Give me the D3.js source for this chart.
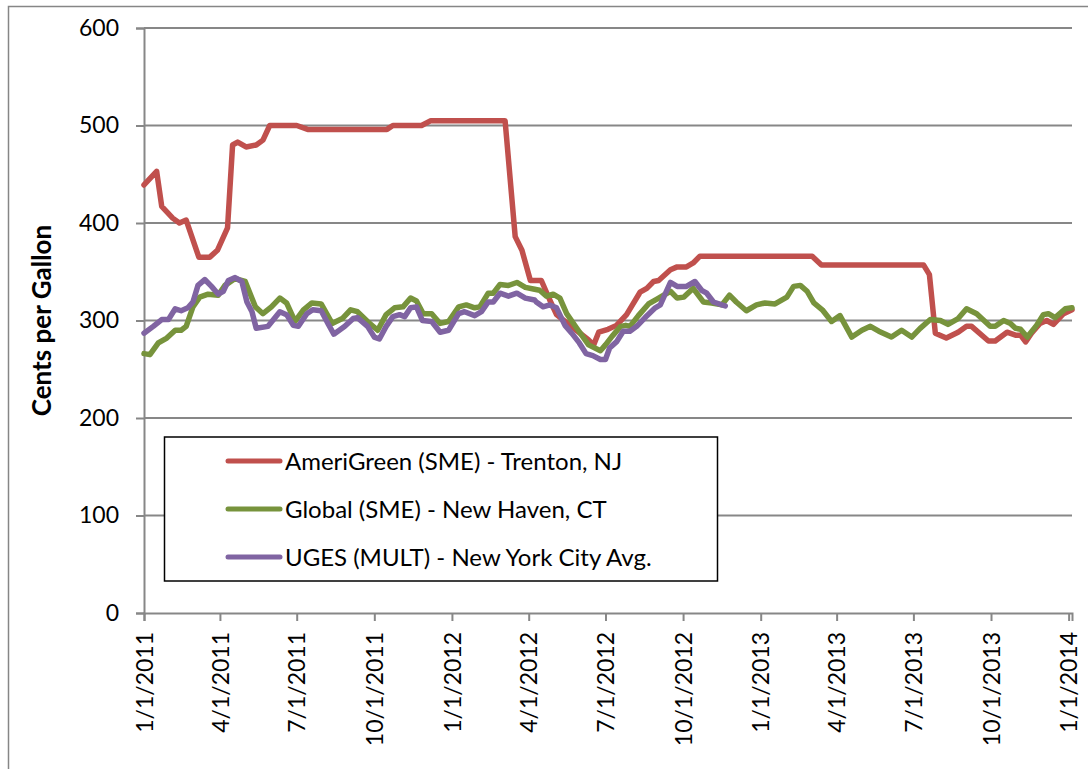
<!DOCTYPE html>
<html>
<head>
<meta charset="utf-8">
<script src="https://cdn.jsdelivr.net/npm/d3@7"></script>
<style>
  body { margin: 0; background: #fff; }
  svg text { font-family: Lato, "Open Sans", sans-serif; fill: #000; }
</style>
</head>
<body>
<div id="chart"></div>
<script>
// AmeriGreen (SME) - Trenton, NJ  [date, cents per gallon]
const amerigreen = [
  ["2011-01-01",439],["2011-01-16",453],["2011-01-22",417],["2011-02-04",405],["2011-02-12",400],
  ["2011-02-20",403],["2011-03-07",365],["2011-03-20",365],["2011-03-29",372],["2011-04-10",395],
  ["2011-04-16",480],["2011-04-22",483],["2011-05-02",478],["2011-05-14",480],["2011-05-22",485],
  ["2011-05-30",500],["2011-07-01",500],["2011-07-14",496],["2011-10-16",496],["2011-10-23",500],
  ["2011-11-26",500],["2011-12-07",505],["2012-03-04",505],["2012-03-16",386],["2012-03-24",372],
  ["2012-04-03",341],["2012-04-16",341],["2012-04-26",321],["2012-05-04",306],["2012-06-11",280],
  ["2012-06-17",275],["2012-06-23",288],["2012-07-04",291],["2012-07-14",295],["2012-07-26",306],
  ["2012-08-11",329],["2012-08-19",333],["2012-08-27",340],["2012-09-02",341],["2012-09-16",352],
  ["2012-09-24",355],["2012-10-05",355],["2012-10-13",359],["2012-10-21",366],["2013-03-03",366],
  ["2013-03-14",357],["2013-07-13",357],["2013-07-20",347],["2013-07-27",287],["2013-08-09",282],
  ["2013-08-23",288],["2013-09-02",294],["2013-09-08",294],["2013-09-28",279],["2013-10-06",279],
  ["2013-10-20",288],["2013-10-30",285],["2013-11-05",285],["2013-11-11",278],["2013-11-18",287],
  ["2013-11-28",297],["2013-12-06",300],["2013-12-14",296],["2013-12-26",307],["2014-01-05",311]
];

// Global (SME) - New Haven, CT
const global = [
  ["2011-01-01",266],["2011-01-08",265],["2011-01-18",277],["2011-01-28",282],["2011-02-07",290],
  ["2011-02-14",290],["2011-02-20",294],["2011-02-28",314],["2011-03-08",324],["2011-03-18",327],
  ["2011-03-30",326],["2011-04-07",336],["2011-04-19",343],["2011-05-01",340],["2011-05-13",314],
  ["2011-05-22",307],["2011-06-01",314],["2011-06-11",323],["2011-06-19",318],["2011-06-29",299],
  ["2011-07-09",311],["2011-07-19",318],["2011-07-30",317],["2011-08-12",297],["2011-08-24",302],
  ["2011-09-03",311],["2011-09-11",309],["2011-09-23",299],["2011-10-05",290],["2011-10-15",306],
  ["2011-10-25",313],["2011-11-04",314],["2011-11-13",323],["2011-11-20",320],["2011-11-28",307],
  ["2011-12-08",307],["2011-12-18",297],["2011-12-28",299],["2012-01-09",314],["2012-01-18",316],
  ["2012-01-28",313],["2012-02-03",314],["2012-02-13",328],["2012-02-19",328],["2012-02-27",337],
  ["2012-03-08",336],["2012-03-18",339],["2012-03-28",334],["2012-04-08",332],["2012-04-14",331],
  ["2012-04-22",325],["2012-04-30",327],["2012-05-08",323],["2012-05-16",307],["2012-05-28",292],
  ["2012-06-11",275],["2012-06-25",269],["2012-07-01",275],["2012-07-09",284],["2012-07-19",294],
  ["2012-07-25",295],["2012-07-30",294],["2012-08-09",305],["2012-08-21",317],["2012-08-31",322],
  ["2012-09-16",330],["2012-09-24",323],["2012-10-02",324],["2012-10-13",333],["2012-10-25",319],
  ["2012-11-04",318],["2012-11-16",316],["2012-11-25",326],["2012-12-03",319],["2012-12-15",310],
  ["2012-12-27",316],["2013-01-06",318],["2013-01-18",317],["2013-02-01",324],["2013-02-09",335],
  ["2013-02-17",336],["2013-02-25",330],["2013-03-05",318],["2013-03-15",311],["2013-03-26",299],
  ["2013-04-05",305],["2013-04-19",283],["2013-05-01",290],["2013-05-11",294],["2013-05-21",289],
  ["2013-06-05",283],["2013-06-17",290],["2013-06-29",283],["2013-07-09",292],["2013-07-21",301],
  ["2013-08-02",300],["2013-08-11",296],["2013-08-23",302],["2013-09-02",312],["2013-09-14",307],
  ["2013-09-30",294],["2013-10-06",294],["2013-10-16",300],["2013-10-24",297],["2013-10-30",292],
  ["2013-11-05",291],["2013-11-13",283],["2013-11-24",295],["2013-12-02",306],["2013-12-08",307],
  ["2013-12-16",303],["2013-12-28",312],["2014-01-05",313]
];

// UGES (MULT) - New York City Avg.
const uges = [
  ["2011-01-01",287],["2011-01-12",294],["2011-01-22",301],["2011-01-30",301],["2011-02-07",312],
  ["2011-02-14",310],["2011-02-22",313],["2011-02-28",319],["2011-03-06",336],["2011-03-14",342],
  ["2011-03-22",335],["2011-03-30",327],["2011-04-05",330],["2011-04-11",341],["2011-04-19",344],
  ["2011-04-27",340],["2011-05-03",319],["2011-05-09",309],["2011-05-14",292],["2011-05-28",294],
  ["2011-06-11",309],["2011-06-19",306],["2011-06-27",295],["2011-07-03",294],["2011-07-13",307],
  ["2011-07-20",311],["2011-07-30",310],["2011-08-07",297],["2011-08-14",286],["2011-08-27",294],
  ["2011-09-06",302],["2011-09-11",303],["2011-09-23",294],["2011-10-01",283],["2011-10-07",281],
  ["2011-10-15",294],["2011-10-23",304],["2011-10-31",306],["2011-11-06",304],["2011-11-13",313],
  ["2011-11-20",314],["2011-11-27",300],["2011-12-08",299],["2011-12-18",288],["2011-12-28",290],
  ["2012-01-09",307],["2012-01-16",309],["2012-01-28",305],["2012-02-05",309],["2012-02-13",319],
  ["2012-02-19",319],["2012-02-27",328],["2012-03-08",325],["2012-03-18",328],["2012-03-28",323],
  ["2012-04-08",321],["2012-04-10",319],["2012-04-18",314],["2012-04-26",316],["2012-05-04",313],
  ["2012-05-14",295],["2012-05-22",287],["2012-05-31",277],["2012-06-08",266],["2012-06-16",264],
  ["2012-06-25",260],["2012-07-01",260],["2012-07-06",272],["2012-07-14",278],["2012-07-22",289],
  ["2012-07-30",289],["2012-08-07",294],["2012-08-17",303],["2012-08-29",313],["2012-09-04",316],
  ["2012-09-16",339],["2012-09-24",335],["2012-10-05",335],["2012-10-15",340],["2012-10-23",331],
  ["2012-10-29",328],["2012-11-06",319],["2012-11-16",316],["2012-11-20",315]
];

const seriesNames = ["AmeriGreen (SME) - Trenton, NJ", "Global (SME) - New Haven, CT", "UGES (MULT) - New York City Avg."];
const seriesColors = ["#C0504D", "#77933C", "#8064A2"];
const xTickDates = ["2011-01-01","2011-04-01","2011-07-01","2011-10-01","2012-01-01","2012-04-01","2012-07-01",
  "2012-10-01","2013-01-01","2013-04-01","2013-07-01","2013-10-01","2014-01-01"];
const yTicks = [0, 100, 200, 300, 400, 500, 600];
const xDomain = ["2011-01-01", "2014-01-05"];

const W = 1088, H = 769;
const margin = { top: 28, right: 16, bottom: 156, left: 144 };
const parse = d3.utcParse("%Y-%m-%d");
const fmt = d3.utcFormat("%-m/%-d/%Y");

const svg = d3.select("#chart").append("svg")
  .attr("width", W).attr("height", H);

// chart area border (runs off the right/bottom edge like the source)
svg.append("rect")
  .attr("x", 8.5).attr("y", 6.5)
  .attr("width", W + 20).attr("height", H + 20)
  .attr("fill", "#fff").attr("stroke", "#868686").attr("stroke-width", 1.5);

const x = d3.scaleUtc()
  .domain(xDomain.map(parse))
  .range([margin.left, W - margin.right]);
const y = d3.scaleLinear()
  .domain([0, 600])
  .range([H - margin.bottom, margin.top]);

// gridlines
svg.append("g")
  .selectAll("line")
  .data(yTicks.filter(d => d > 0))
  .enter().append("line")
    .attr("x1", margin.left).attr("x2", W - margin.right)
    .attr("y1", d => y(d)).attr("y2", d => y(d))
    .attr("stroke", "#878787").attr("stroke-width", 2);

// y axis
const yAxis = svg.append("g")
  .attr("transform", `translate(${margin.left},0)`)
  .call(d3.axisLeft(y).tickValues(yTicks).tickSize(8).tickPadding(17));
yAxis.select(".domain").attr("stroke", "#878787").attr("stroke-width", 2);
yAxis.selectAll(".tick line").attr("stroke", "#878787").attr("stroke-width", 2);
yAxis.selectAll("text").style("font-size", "23px").attr("fill", "#000");

// x axis
const xAxis = svg.append("g")
  .attr("transform", `translate(0,${y(0)})`)
  .call(d3.axisBottom(x).tickValues(xTickDates.map(parse)).tickFormat(fmt).tickSize(8));
xAxis.select(".domain").attr("stroke", "#878787").attr("stroke-width", 2);
xAxis.selectAll(".tick line").attr("stroke", "#878787").attr("stroke-width", 2);
xAxis.selectAll("text")
  .style("font-size", "23px").attr("fill", "#000")
  .attr("transform", "rotate(-90)")
  .attr("x", -19).attr("y", 0).attr("dy", "0.36em")
  .style("text-anchor", "end");

// y axis title
svg.append("text")
  .attr("transform", `translate(51,${(y(0) + y(600)) / 2}) rotate(-90)`)
  .attr("text-anchor", "middle")
  .style("font-size", "26px").style("font-weight", "bold")
  .text("Cents per Gallon");

// lines
const line = d3.line()
  .x(d => x(parse(d[0])))
  .y(d => y(d[1]));

[amerigreen, global, uges].forEach((s, i) => {
  svg.append("path")
    .datum(s)
    .attr("d", line)
    .attr("fill", "none")
    .attr("stroke", seriesColors[i])
    .attr("stroke-width", 5.5)
    .attr("stroke-linejoin", "round")
    .attr("stroke-linecap", "round");
});

// legend
const lg = svg.append("g");
lg.append("rect")
  .attr("x", 164.5).attr("y", 437)
  .attr("width", 553).attr("height", 144)
  .attr("fill", "#fff").attr("stroke", "#000").attr("stroke-width", 1.5);
seriesNames.forEach((name, i) => {
  const ly = 461 + i * 48;
  lg.append("line")
    .attr("x1", 228).attr("x2", 280)
    .attr("y1", ly).attr("y2", ly)
    .attr("stroke", seriesColors[i]).attr("stroke-width", 5)
    .attr("stroke-linecap", "round");
  lg.append("text")
    .attr("x", 285).attr("y", ly).attr("dy", "0.36em")
    .style("font-size", "24px")
    .text(name);
});
</script>
</body>
</html>
